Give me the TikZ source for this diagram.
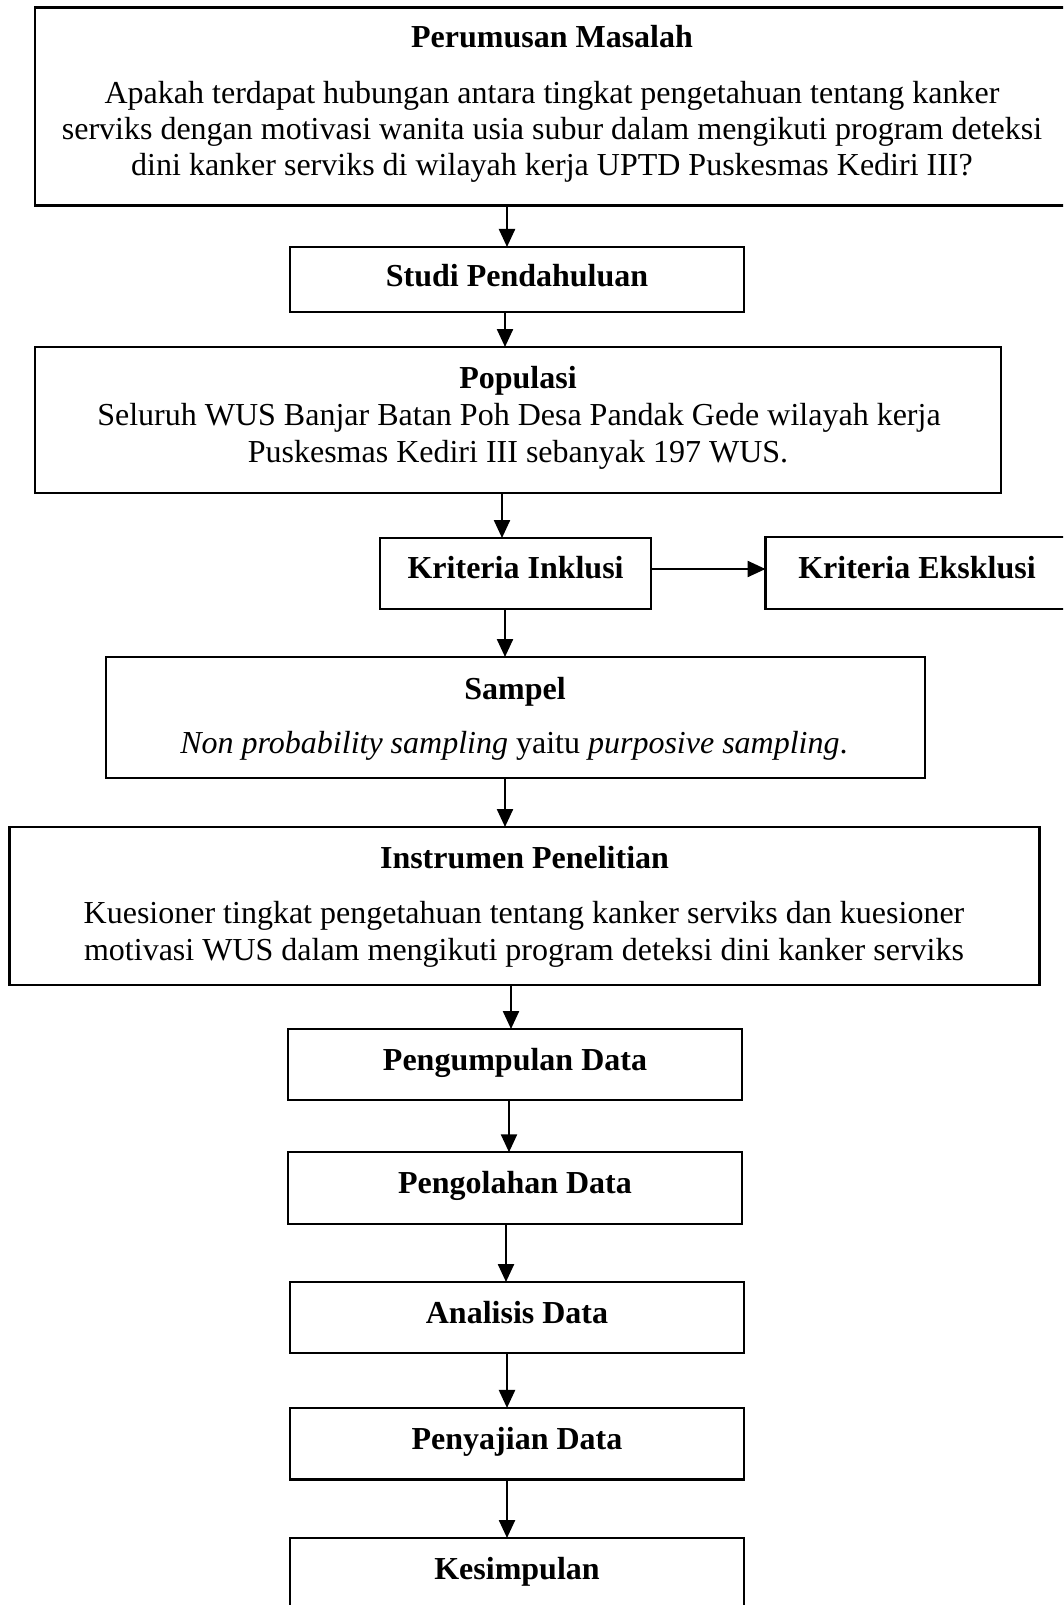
\documentclass[tikz,border=0pt]{standalone}
\usepackage{fontspec}
\setmainfont{Liberation Serif}
\usetikzlibrary{arrows.meta}
\begin{document}
\begin{tikzpicture}[x=1pt,y=-1pt,
  box/.style={draw,line width=2.4pt,inner sep=0pt,outer sep=0pt},
  arr/.style={line width=2.4pt,-{Triangle[length=18pt,width=16pt]}},
  ttl/.style={font=\fontsize{32}{36}\selectfont\bfseries,anchor=base,inner sep=0pt},
  txt/.style={font=\fontsize{32}{36}\selectfont,anchor=base,inner sep=0pt}]
\fill[white] (0,0) rectangle (1063,1605);
\useasboundingbox (0,0) rectangle (1063,1605);
\clip (0,0) rectangle (1063,1605);
% boxes
\node[box,minimum width=1055pt,minimum height=198pt] (top) at (562.5,106.5) {};
\node[box,minimum width=454pt,minimum height=65pt] (studi) at (517,279.5) {};
\node[box,minimum width=966pt,minimum height=146pt] (pop) at (518,420) {};
\node[box,minimum width=271pt,minimum height=71pt] (inkl) at (515.5,573.5) {};
\node[box,minimum width=325pt,minimum height=72pt] (eks) at (928,573) {};
\node[box,minimum width=819pt,minimum height=121pt] (sampel) at (515.5,717.5) {};
\node[box,minimum width=1030pt,minimum height=158pt] (instr) at (524.5,906) {};
\node[box,minimum width=454pt,minimum height=71pt] (peng) at (515,1064.5) {};
\node[box,minimum width=454pt,minimum height=71.5pt] (olah) at (515,1188) {};
\node[box,minimum width=454pt,minimum height=71pt] (anal) at (516.7,1317.5) {};
\node[box,minimum width=454pt,minimum height=71.5pt] (saji) at (516.7,1443.7) {};
\node[box,minimum width=454pt,minimum height=102pt] (kes) at (516.7,1589) {};
% texts
\node[ttl] (t1) at (552,48) {Perumusan Masalah};
\node[txt] (t1a) at (552,104) {Apakah terdapat hubungan antara tingkat pengetahuan tentang kanker};
\node[txt] (t1b) at (552,140) {serviks dengan motivasi wanita usia subur dalam mengikuti program deteksi};
\node[txt] (t1c) at (552,176) {dini kanker serviks di wilayah kerja UPTD Puskesmas Kediri III?};
\node[ttl] (t2) at (517,287) {Studi Pendahuluan};
\node[ttl] (t3) at (518,388) {Populasi};
\node[txt] (t3a) at (519,425) {Seluruh WUS Banjar Batan Poh Desa Pandak Gede wilayah kerja};
\node[txt] (t3b) at (518,462) {Puskesmas Kediri III sebanyak 197 WUS.};
\node[ttl] (t4) at (515.6,578) {Kriteria Inklusi};
\node[ttl] (t5) at (917,578) {Kriteria Eksklusi};
\node[ttl] (t6) at (515,699) {Sampel};
\node[txt] (t6a) at (514,753) {\textit{Non probability sampling} yaitu \textit{purposive sampling}.};
\node[ttl] (t7) at (524.5,868) {Instrumen Penelitian};
\node[txt] (t7a) at (524,923) {Kuesioner tingkat pengetahuan tentang kanker serviks dan kuesioner};
\node[txt] (t7b) at (524,960) {motivasi WUS dalam mengikuti program deteksi dini kanker serviks};
\node[ttl] (t8) at (515,1070) {Pengumpulan Data};
\node[ttl] (t9) at (515,1193) {Pengolahan Data};
\node[ttl] (t10) at (517,1323.5) {Analisis Data};
\node[ttl] (t11) at (517,1449) {Penyajian Data};
\node[ttl] (t12) at (517,1579) {Kesimpulan};
% arrows
\draw[arr] ([xshift=-10pt]studi.north |- top.south) -- ([xshift=-10pt]studi.north);
\draw[arr] ([xshift=-13pt]pop.north |- studi.south) -- ([xshift=-13pt]pop.north);
\draw[arr] ([xshift=-13.5pt]inkl.north |- pop.south) -- ([xshift=-13.5pt]inkl.north);
\draw[arr] ([xshift=-10.5pt]sampel.north |- inkl.south) -- ([xshift=-10.5pt]sampel.north);
\draw[arr] ([xshift=-19.5pt]instr.north |- sampel.south) -- ([xshift=-19.5pt]instr.north);
\draw[arr] ([xshift=-4pt]peng.north |- instr.south) -- ([xshift=-4pt]peng.north);
\draw[arr] ([xshift=-6pt]olah.north |- peng.south) -- ([xshift=-6pt]olah.north);
\draw[arr] ([xshift=-10.7pt]anal.north |- olah.south) -- ([xshift=-10.7pt]anal.north);
\draw[arr] ([xshift=-9.7pt]saji.north |- anal.south) -- ([xshift=-9.7pt]saji.north);
\draw[arr] ([xshift=-9.7pt]kes.north |- saji.south) -- ([xshift=-9.7pt]kes.north);
\draw[arr] ([yshift=4.5pt]inkl.east) -- ([yshift=4.5pt]inkl.east -| eks.west);
\end{tikzpicture}
\end{document}
